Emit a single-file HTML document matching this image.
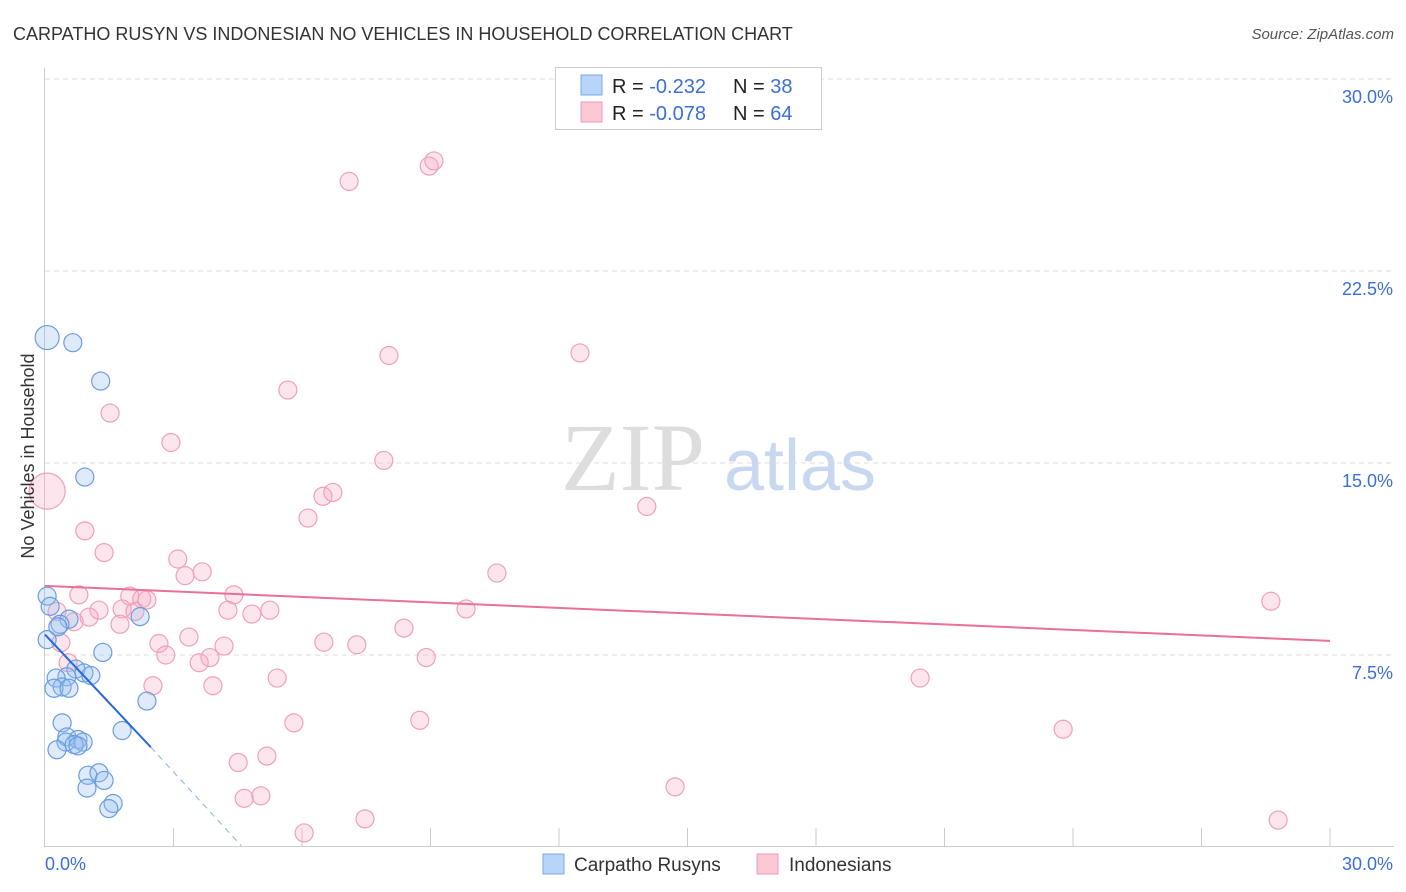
<!DOCTYPE html>
<html><head><meta charset="utf-8"><style>
body{margin:0;background:#fff;font-family:"Liberation Sans",sans-serif;}
svg{display:block}
</style></head><body>
<svg id="chart" width="1406" height="892" xmlns="http://www.w3.org/2000/svg">
<text x="13" y="40" font-size="18" fill="#333">CARPATHO RUSYN VS INDONESIAN NO VEHICLES IN HOUSEHOLD CORRELATION CHART</text>
<text x="1394" y="39" font-size="15" fill="#555" font-style="italic" text-anchor="end">Source: ZipAtlas.com</text>
<text x="633" y="490" font-size="96" fill="#ddd" font-family="Liberation Serif,serif" text-anchor="middle">ZIP</text>
<text x="800" y="490" font-size="72" fill="#c8d8f0" text-anchor="middle">atlas</text>
<g id="grid"></g><g id="axes"></g><g id="marks"></g>
<text transform="translate(34,456) rotate(-90)" font-size="18" fill="#333" text-anchor="middle">No Vehicles in Household</text>
<g>
<rect x="555.5" y="67.5" width="266" height="62" fill="#fff" stroke="#ccc"/>
<rect x="581" y="75" width="21" height="20" fill="#b8d4f8" stroke="#7aa8e8"/>
<rect x="581" y="102" width="21" height="20" fill="#fcc8d6" stroke="#f09ab4"/>
<text x="612" y="93" font-size="20" fill="#222">R = <tspan fill="#3b6fd6">-0.232</tspan><tspan x="733">N = </tspan><tspan fill="#3b6fd6">38</tspan></text>
<text x="612" y="120" font-size="20" fill="#222">R = <tspan fill="#3b6fd6">-0.078</tspan><tspan x="733">N = </tspan><tspan fill="#3b6fd6">64</tspan></text>
</g>
<g>
<rect x="543" y="854" width="21" height="20" fill="#b8d4f8" stroke="#7aa8e8"/>
<text x="574" y="871" font-size="19" fill="#333">Carpatho Rusyns</text>
<rect x="757" y="854" width="21" height="20" fill="#fcc8d6" stroke="#f09ab4"/>
<text x="789" y="871" font-size="19" fill="#333">Indonesians</text>
</g>
</svg>
<script>
const yTicks=[7.5,15,22.5,30];
const yTickLabels=["7.5%","15.0%","22.5%","30.0%"];
const xTickLabels=["0.0%","30.0%"];
const blueX=[0.05,0.65,1.3,0.93,0.05,0.12,2.22,0.56,0.35,0.3,0.05,1.35,0.72,0.91,1.07,0.51,0.26,0.4,0.21,0.56,2.38,0.4,1.8,0.51,0.77,0.49,0.89,0.68,0.77,0.28,1.0,1.26,1.38,0.98,1.59,1.49];
const blueY=[19.9,19.7,18.2,14.45,9.8,9.4,9.0,8.9,8.7,8.6,8.1,7.6,6.95,6.8,6.7,6.65,6.6,6.25,6.2,6.2,5.7,4.85,4.55,4.3,4.2,4.1,4.1,4.0,3.95,3.8,2.8,2.9,2.6,2.3,1.7,1.5];
const blueR=[12,9,9,9,9,9,9,9,9,9,9,9,9,9,9,9,9,9,9,9,9,9,9,9,9,9,9,9,9,9,9,9,9,9,9,9];
const pinkX=[0.05,0.93,1.38,1.52,2.94,5.67,7.1,8.97,9.08,8.03,12.49,7.91,14.05,6.49,6.72,6.14,3.1,3.67,3.27,10.55,0.79,1.98,2.26,2.38,4.41,5.25,4.27,4.83,1.26,1.8,2.1,1.03,0.68,0.28,1.75,8.38,9.83,6.51,7.28,2.66,3.36,4.18,2.82,3.85,8.9,0.37,0.54,3.6,2.52,3.92,5.42,20.43,5.81,8.75,23.77,5.18,4.51,5.04,4.65,14.71,7.47,6.05,28.62,28.79];
const pinkY=[13.9,12.35,11.5,16.95,15.8,17.85,26.0,26.6,26.8,19.2,19.3,15.1,13.3,13.7,13.85,12.85,11.25,10.75,10.6,10.7,9.85,9.8,9.7,9.65,9.85,9.25,9.25,9.1,9.25,9.3,9.2,8.98,8.8,9.2,8.7,8.55,9.3,8.0,7.9,7.95,8.2,7.85,7.5,7.4,7.4,7.98,7.2,7.2,6.3,6.3,6.6,6.6,4.85,4.95,4.6,3.55,3.3,2.0,1.9,2.35,1.1,0.55,9.6,1.05];
const pinkR=[18,9,9,9,9,9,9,9,9,9,9,9,9,9,9,9,9,9,9,9,9,9,9,9,9,9,9,9,9,9,9,9,9,9,9,9,9,9,9,9,9,9,9,9,9,9,9,9,9,9,9,9,9,9,9,9,9,9,9,9,9,9,9,9];
const blueTrend=[[0,8.3],[2.47,3.9]];
const blueDash=[[2.47,3.9],[4.58,0.05]];
const pinkTrend=[[0,10.2],[30,8.05]];
const NS="http://www.w3.org/2000/svg";
const X=v=>45+v*(1285/30), Y=v=>847-v*25.6;
function mk(t,a,p){const e=document.createElementNS(NS,t);for(const k in a)e.setAttribute(k,a[k]);p.appendChild(e);return e;}
const grid=document.getElementById('grid'),axes=document.getElementById('axes'),marks=document.getElementById('marks');
yTicks.forEach((t,i)=>{
 const l=mk('line',{x1:45,x2:1394,y1:Y(t),y2:Y(t),stroke:'#ddd','stroke-dasharray':'5,4'},grid);
 
 
 const tx=mk('text',{x:1393,y:Y(t)+24,'font-size':18,fill:'#3b6fd6','text-anchor':'end'},axes);
 tx.textContent=yTickLabels[i];
 
 
});
const ya=mk('line',{x1:44.5,x2:44.5,y1:68,y2:847,stroke:'#ccc'},axes);


const xa=mk('line',{x1:45,x2:1394,y1:846.5,y2:846.5,stroke:'#ccc'},axes);


for(let v=3;v<=30;v+=3){const t=mk('line',{x1:X(v),x2:X(v),y1:828,y2:847,stroke:'#ccc'},axes);
 
 }
[[0,'start',45],[30,'end',1393]].forEach((p,i)=>{const t=mk('text',{x:p[2],y:870,'font-size':18,fill:'#3b6fd6','text-anchor':p[1]},axes);t.textContent=xTickLabels[i];
 
 });
pinkX.forEach((x,i)=>{const c=mk('circle',{cx:X(x),cy:Y(pinkY[i]),r:pinkR[i],fill:'rgba(248,170,195,0.3)',stroke:'#f0a0b8','stroke-width':1.2},marks);
 
 });
blueX.forEach((x,i)=>{const c=mk('circle',{cx:X(x),cy:Y(blueY[i]),r:blueR[i],fill:'rgba(150,190,240,0.3)',stroke:'#6a9de0','stroke-width':1.2},marks);
 
 });
const pl=mk('line',{x1:X(pinkTrend[0][0]),y1:Y(pinkTrend[0][1]),x2:X(pinkTrend[1][0]),y2:Y(pinkTrend[1][1]),stroke:'#e8709a','stroke-width':2},marks);


const bl=mk('line',{x1:X(blueTrend[0][0]),y1:Y(blueTrend[0][1]),x2:X(blueTrend[1][0]),y2:Y(blueTrend[1][1]),stroke:'#2a6ad8','stroke-width':2},marks);


const bd=mk('line',{x1:X(blueDash[0][0]),y1:Y(blueDash[0][1]),x2:X(blueDash[1][0]),y2:Y(blueDash[1][1]),stroke:'#8ab0e8','stroke-width':1,'stroke-dasharray':'6,5'},marks);


</script>
</body></html>
